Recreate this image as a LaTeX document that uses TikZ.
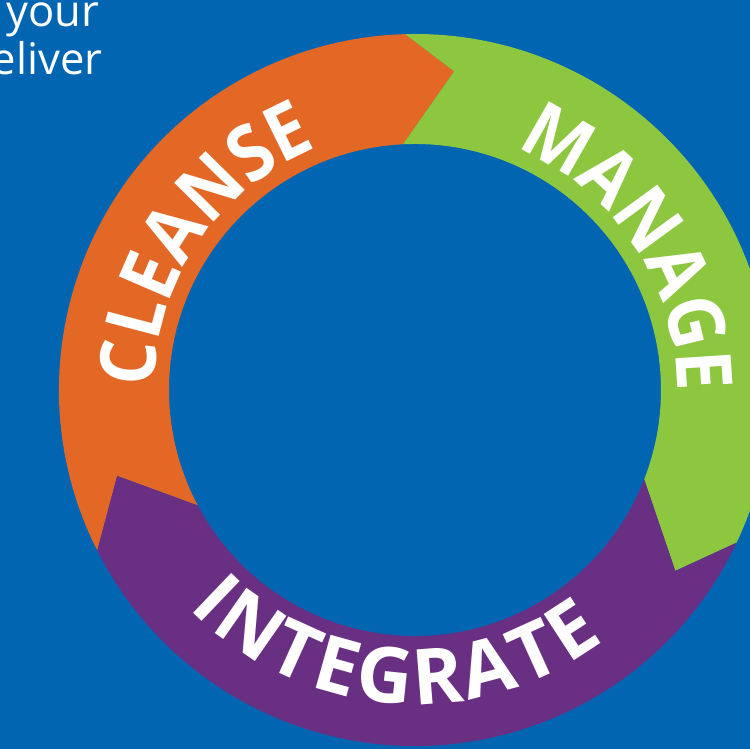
\documentclass[tikz,border=0pt]{standalone}
\usepackage{fontspec}
\setmainfont{Open Sans}
\newfontfamily\ringfamily[FakeStretch=0.91]{Open Sans}
\usetikzlibrary{decorations.text}
\definecolor{bgblue}{RGB}{2,101,178}
\definecolor{cleanse}{RGB}{227,104,38}
\definecolor{manage}{RGB}{141,198,63}
\definecolor{integrate}{RGB}{104,47,130}
\newcommand{\ringfont}{\ringfamily\fontsize{22}{22}\selectfont\bfseries}
\newcommand{\ringwide}{\fontsize{22}{22}\selectfont\bfseries}
\tikzset{
  ringtext/.style={decorate, decoration={text along path, text align=fit to path,
      text color=white, text={#1}}},
  blurb/.style={text=white, inner sep=0pt, anchor=base east, font=\fontsize{12.4}{14}\selectfont}
}

\begin{document}
\begin{tikzpicture}
      \useasboundingbox (-4.15,-3.59) rectangle (3.35,3.90);
      \fill[bgblue] (-4.15,-3.59) rectangle (3.35,3.90);
      \clip (-4.15,-3.59) rectangle (3.35,3.90);
      \node[blurb] (your) at (-3.15,3.63) {your};
      \node[blurb] (eliver) at (-3.12,3.15) {eliver};
      % ring segments
      \fill[cleanse] (206.8:3.56) arc[start angle=206.8, end angle=91.6, radius=3.56]
           -- (83:3.21) -- (92.8:2.46) arc[start angle=92.8, end angle=208, radius=2.46]
           -- (196.1:3.10) -- cycle;
      \fill[manage] (91.6:3.56) arc[start angle=91.6, end angle=-25.4, radius=3.56]
           -- (-34.8:3.17) -- (-21.3:2.46) arc[start angle=-21.3, end angle=92.8, radius=2.46]
           -- (83:3.21) -- cycle;
      \fill[integrate] (-25.4:3.56) arc[start angle=-25.4, end angle=-153.2, radius=3.56]
           -- (196.1:3.10) -- (208:2.46) arc[start angle=-152, end angle=-21.3, radius=2.46]
           -- (-34.8:3.17) -- cycle;
      % labels
      \path[ringtext={|\ringfont|CLEANSE}] (179.5:2.61) arc[start angle=179.5, end angle=114, radius=2.61];
      \path[ringtext={|\ringfont|MANAGE}] (67.5:2.62) arc[start angle=67.5, end angle=0, radius=2.62];
      \path[ringtext={|\ringwide|INTEGRATE}] (224:3.14) arc[start angle=224, end angle=307, radius=3.14];
\end{tikzpicture}
\end{document}
